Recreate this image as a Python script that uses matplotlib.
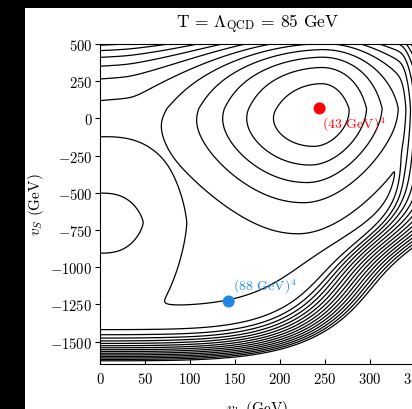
import numpy as np
import matplotlib
matplotlib.use("Agg")
import matplotlib.pyplot as plt
from matplotlib.patches import Rectangle

plt.rcParams["font.family"] = "serif"
plt.rcParams["font.serif"] = ["cmr10"]
plt.rcParams["mathtext.fontset"] = "cm"
plt.rcParams["axes.formatter.use_mathtext"] = True

# contour levels of the potential (arbitrary units)
levels = [-2, -1, 0, 1, 2, 3, 4, 5, 6, 7, 8, 9, 10, 11, 12, 13, 14, 15, 16]

# marked minima (GeV)
min_vh     = [244, 143]
min_vs     = [67, -1230]
min_labels = [r"(43 GeV)$^4$", r"(88 GeV)$^4$"]
min_colors = ["#ff0000", "#1f88e5"]
label_vh   = [247, 148]
label_vs   = [-34, -1122]

xticks = [0, 50, 100, 150, 200, 250, 300, 350]
yticks = [-1500, -1250, -1000, -750, -500, -250, 0, 250, 500]

# shape of the potential (units of 100 GeV)
plateau   = 2.6
red_depth = 5.8
red_h     = 2.45
red_s     = 0.67
pk_depth  = 2.3
pk_s      = -7.0
wall_e0   = 14.2
tr_depth  = 0.9


def softplus(z, w):
    return w*np.logaddexp(0, z/w)


def potential(vh, vs):
    x = vh/100.0
    y = vs/100.0

    # deep basin around the red minimum, narrowing towards the bottom
    dy = y - red_s
    below = np.minimum(dy, 0)
    dx = x - (red_h + 0.03*below)
    sx = np.where(dx < 0, 1.364*np.maximum(0.35, 1 + 0.05*below),
                  0.85*np.maximum(0.35, 1 + 0.03*below))
    sy = np.where(dy < 0, 5.6, 15.0)
    red = -red_depth*np.exp(-(dx/sx)**2 - (dy/sy)**2)

    # shallow pocket on the vh = 0 axis
    pocket = -pk_depth/(1 + (x/0.658)**2.68 + (np.abs(y - pk_s)/3.72)**1.4)

    # walls at the bottom and the right, trough running along them
    up = 1/(1 + np.exp(-(y + 8)/1.2))
    ax_w = 0.185 + 0.052*up
    xe = (x/ax_w)**4
    e = (xe + np.maximum(-y, 0)**4)**0.25
    t = softplus(e - wall_e0, 0.1)
    mix = xe/np.maximum(e, 1e-9)**4
    wall = (1 - mix)*(2.5*t + 2*t**2) + mix*4*t
    tr_w = 1.5 - 1.25*up
    tr_e = 13.55 + 0.55*up
    trough = -tr_depth*np.exp(-((e - tr_e)/tr_w)**2)

    # rise towards the top edge
    top = 0.393*np.exp(y/1.86)*(1 - 0.08*x)
    top += 0.25*np.exp(-x)/(1 + np.exp(-(y - 0.3)/0.4))

    tau = 0.08
    wells = -tau*np.logaddexp(np.logaddexp(-red/tau, -pocket/tau), -trough/tau)
    return plateau + wells + wall + top


vh = np.linspace(0, 350, 600)
vs = np.linspace(-1650, 500, 900)
VH, VS = np.meshgrid(vh, vs)
V = potential(VH, VS)

fig = plt.figure(figsize=(4.12, 4.10), dpi=100, facecolor="black")
fig.patches.append(Rectangle((25/412, 0), 387/412, 401/410, transform=fig.transFigure,
                             facecolor="white", edgecolor="none", zorder=-5))
ax = fig.add_axes([100/412, 45/410, 315/412, 320/410])

ax.contour(VH, VS, V, levels=levels, colors="black", linewidths=0.9, linestyles="solid")

ax.scatter(min_vh, min_vs, c=min_colors, s=75, zorder=3, edgecolors="none")
for lx, ly, lab, col in zip(label_vh, label_vs, min_labels, min_colors):
    ax.text(lx, ly, lab, color=col, fontsize=10, ha="left", va="center")

ax.set_xlim(0, 350)
ax.set_ylim(-1650, 500)
ax.set_xticks(xticks)
ax.set_yticks(yticks)
ax.tick_params(axis="y", direction="out", length=3.5, width=0.8, pad=2, labelsize=10.5)
ax.tick_params(axis="x", direction="in", length=3.5, width=0.8, pad=5, labelsize=10.5)

ax.set_title(r"T = $\Lambda_{\rm QCD}$ = 85 GeV", fontsize=12.5, pad=12)
ax.set_xlabel(r"$v_h$ (GeV)", fontsize=11)
ax.set_ylabel(r"$v_S$ (GeV)", fontsize=11)
ax.xaxis.set_label_coords(0.5, -0.106)
ax.yaxis.set_label_coords(-0.172, 0.5)

fig.savefig("out.png", dpi=100, facecolor=fig.get_facecolor())
